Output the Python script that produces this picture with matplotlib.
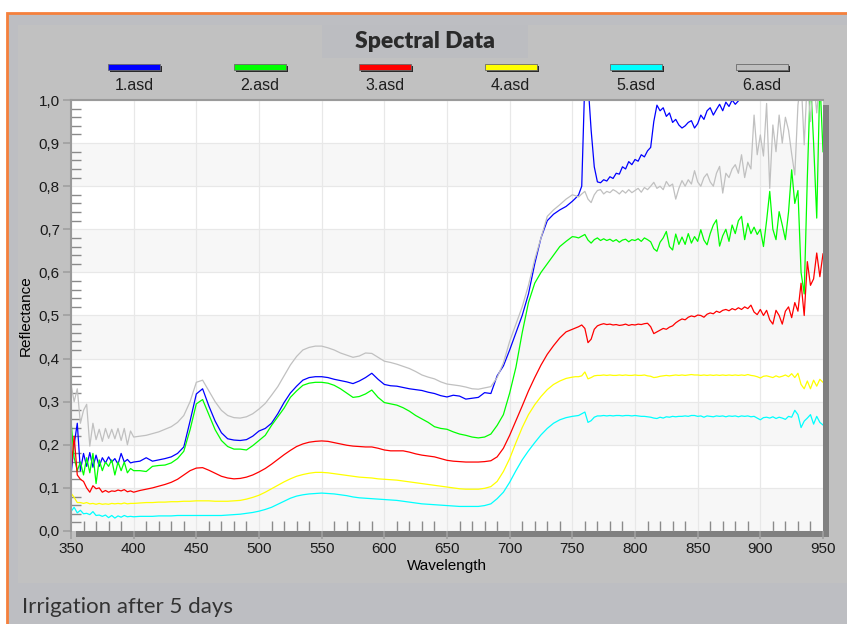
import numpy as np
import matplotlib
matplotlib.use("Agg")
import matplotlib.pyplot as plt
from matplotlib.patches import Rectangle
from matplotlib.ticker import MultipleLocator, FuncFormatter

# sample grid: finer where the spectra are noisy
wavelength = np.concatenate([np.arange(350, 400.1, 2.5),
                             np.arange(405, 750.1, 5),
                             np.arange(752.5, 950.1, 2.5)])

names = ['1.asd', '2.asd', '3.asd', '4.asd', '5.asd', '6.asd']
colors = ['#0000ff', '#00ff00', '#ff0000', '#ffff00', '#00ffff', '#c0c0c0']

blue = [
    0.13, 0.2, 0.25, 0.14, 0.18, 0.15, 0.182, 0.148, 0.176, 0.15, 0.17, 0.158, 0.172, 0.16, 0.168, 0.155, 0.18, 0.16, 0.166, 0.158, 0.16,
    0.162, 0.17, 0.162, 0.165, 0.168, 0.172, 0.18, 0.195, 0.255, 0.318,
    0.33, 0.29, 0.255, 0.228, 0.214, 0.211, 0.21, 0.212, 0.22, 0.232,
    0.238, 0.25, 0.272, 0.298, 0.32, 0.336, 0.35, 0.356, 0.358, 0.358,
    0.356, 0.352, 0.349, 0.346, 0.342, 0.348, 0.356, 0.366, 0.352, 0.34,
    0.337, 0.336, 0.333, 0.33, 0.328, 0.326, 0.322, 0.319, 0.314, 0.311,
    0.315, 0.313, 0.306, 0.308, 0.31, 0.321, 0.319, 0.36, 0.383, 0.42,
    0.46, 0.5, 0.55, 0.62, 0.68, 0.72, 0.735, 0.745, 0.753, 0.765,
    0.772, 0.78, 0.8, 1.05, 1.04, 0.93, 0.845, 0.81, 0.808, 0.815,
    0.812, 0.822, 0.818, 0.83, 0.828, 0.845, 0.84, 0.857, 0.85, 0.862,
    0.858, 0.873, 0.868, 0.882, 0.89, 0.95, 0.988, 0.975, 0.982, 0.962,
    0.97, 0.948, 0.955, 0.942, 0.935, 0.94, 0.948, 0.952, 0.935, 0.945,
    0.965, 0.955, 0.975, 0.982, 0.965, 0.978, 0.99, 0.975, 0.995, 0.985,
    1.0, 0.99, 0.998, 1.02, 1.04, 1.03, 1.06, 1.04, 1.07, 1.05,
    1.08, 1.06, 1.09, 1.07, 1.1, 1.08, 1.1, 1.09, 1.12, 1.1,
    1.13, 1.08, 1.15, 1.1, 1.14, 1.12, 1.16, 1.1, 1.15, 1.12,
]

green = [
    0.255, 0.17, 0.14, 0.16, 0.13, 0.17, 0.135, 0.18, 0.11, 0.165, 0.14, 0.16, 0.15, 0.165, 0.13, 0.16, 0.14, 0.16, 0.135, 0.145, 0.14,
    0.14, 0.138, 0.15, 0.152, 0.153, 0.158, 0.168, 0.185, 0.235, 0.295,
    0.305, 0.27, 0.235, 0.21, 0.196, 0.19, 0.19, 0.188, 0.198, 0.21,
    0.222, 0.245, 0.265, 0.285, 0.31, 0.325, 0.338, 0.343, 0.345, 0.345,
    0.343, 0.338, 0.33, 0.32, 0.31, 0.312, 0.318, 0.327, 0.31, 0.298,
    0.295, 0.292, 0.286, 0.278, 0.268, 0.26, 0.252, 0.242, 0.238, 0.236,
    0.23, 0.225, 0.222, 0.218, 0.216, 0.218, 0.225, 0.245, 0.27, 0.32,
    0.38, 0.46, 0.53, 0.575, 0.6, 0.62, 0.64, 0.66, 0.672, 0.683,
    0.682, 0.68, 0.684, 0.688, 0.675, 0.668, 0.676, 0.68, 0.674, 0.678,
    0.674, 0.677, 0.672, 0.676, 0.67, 0.675, 0.677, 0.671, 0.676, 0.674,
    0.678, 0.672, 0.68, 0.676, 0.671, 0.655, 0.649, 0.67, 0.68, 0.695,
    0.66, 0.652, 0.689, 0.665, 0.682, 0.665, 0.69, 0.668, 0.683, 0.672,
    0.699, 0.675, 0.664, 0.69, 0.71, 0.722, 0.661, 0.685, 0.7, 0.672,
    0.71, 0.69, 0.72, 0.73, 0.676, 0.714, 0.69, 0.705, 0.688, 0.7,
    0.66, 0.72, 0.788, 0.7, 0.676, 0.741, 0.71, 0.676, 0.74, 0.838,
    0.76, 0.79, 0.6, 0.55, 0.82, 1.05, 0.9, 0.726, 1.05, 0.88,
]

red = [
    0.14, 0.22, 0.13, 0.12, 0.115, 0.1, 0.09, 0.105, 0.098, 0.1, 0.09, 0.094, 0.09, 0.093, 0.092, 0.095, 0.093, 0.096, 0.091, 0.093, 0.09,
    0.094, 0.097, 0.1, 0.104, 0.108, 0.113, 0.12, 0.13, 0.14, 0.146,
    0.147, 0.141, 0.134, 0.127, 0.123, 0.121, 0.122, 0.125, 0.13, 0.137,
    0.145, 0.155, 0.166, 0.177, 0.187, 0.196, 0.202, 0.206, 0.208, 0.209,
    0.208, 0.205, 0.202, 0.199, 0.197, 0.196, 0.195, 0.195, 0.192, 0.188,
    0.186, 0.186, 0.186, 0.183, 0.179, 0.176, 0.174, 0.172, 0.168, 0.164,
    0.162, 0.161, 0.16, 0.16, 0.16, 0.161, 0.163, 0.172, 0.192, 0.222,
    0.256, 0.29, 0.325, 0.356, 0.385, 0.41, 0.43, 0.448, 0.462, 0.468,
    0.471, 0.474, 0.478, 0.47, 0.437, 0.445, 0.468, 0.476, 0.479, 0.481,
    0.479, 0.48, 0.478, 0.479, 0.477, 0.478, 0.48, 0.477, 0.479, 0.478,
    0.48, 0.479, 0.481, 0.482, 0.474, 0.458, 0.462, 0.466, 0.47, 0.468,
    0.473, 0.476, 0.483, 0.488, 0.492, 0.49, 0.496, 0.499, 0.497, 0.501,
    0.5, 0.496, 0.503, 0.506, 0.504, 0.51, 0.507, 0.512, 0.514, 0.511,
    0.516, 0.513, 0.518, 0.514, 0.52, 0.516, 0.524, 0.508, 0.502, 0.514,
    0.5, 0.512, 0.49, 0.48, 0.512, 0.5, 0.48, 0.51, 0.52, 0.495,
    0.53, 0.51, 0.575, 0.5, 0.625, 0.57, 0.585, 0.645, 0.59, 0.643,
]

yellow = [
    0.088, 0.078, 0.066, 0.066, 0.064, 0.066, 0.063, 0.064, 0.062, 0.064, 0.062, 0.063, 0.062, 0.064, 0.063, 0.064, 0.063, 0.065, 0.063, 0.064, 0.064,
    0.065, 0.066, 0.066, 0.067, 0.067, 0.068, 0.068, 0.069, 0.069, 0.07,
    0.07, 0.07, 0.069, 0.069, 0.069, 0.07, 0.071, 0.074, 0.078, 0.083,
    0.09, 0.098, 0.106, 0.114, 0.121, 0.127, 0.131, 0.134, 0.136, 0.136,
    0.135, 0.133, 0.131, 0.129, 0.127, 0.125, 0.124, 0.123, 0.121, 0.12,
    0.119, 0.118, 0.116, 0.114, 0.112, 0.11, 0.108, 0.106, 0.104, 0.102,
    0.1, 0.098, 0.097, 0.097, 0.097, 0.099, 0.103, 0.115, 0.138, 0.168,
    0.205, 0.24, 0.27, 0.293, 0.312, 0.328, 0.34, 0.348, 0.354, 0.357,
    0.358, 0.358, 0.36, 0.369, 0.353, 0.356, 0.36, 0.361, 0.361, 0.362,
    0.361, 0.362, 0.361, 0.361, 0.362, 0.361, 0.362, 0.361, 0.361, 0.362,
    0.361, 0.361, 0.362, 0.36, 0.359, 0.356, 0.357, 0.359, 0.36, 0.361,
    0.36, 0.361, 0.362, 0.361, 0.362, 0.361, 0.362, 0.363, 0.362, 0.362,
    0.361, 0.362, 0.361, 0.362, 0.361, 0.362, 0.361, 0.362, 0.361, 0.362,
    0.361, 0.362, 0.361, 0.362, 0.361, 0.363, 0.361, 0.36, 0.358, 0.355,
    0.359, 0.36, 0.358, 0.356, 0.36, 0.357, 0.359, 0.362, 0.358, 0.365,
    0.356, 0.366, 0.34, 0.33, 0.348, 0.33, 0.35, 0.336, 0.352, 0.345,
]

cyan = [
    0.045, 0.055, 0.042, 0.048, 0.04, 0.041, 0.038, 0.045, 0.036, 0.037, 0.034, 0.037, 0.031, 0.036, 0.03, 0.035, 0.032, 0.036, 0.033, 0.034, 0.033,
    0.034, 0.034, 0.034, 0.035, 0.035, 0.035, 0.036, 0.036, 0.036, 0.036,
    0.036, 0.036, 0.036, 0.036, 0.037, 0.038, 0.039, 0.041, 0.043, 0.046,
    0.05, 0.055, 0.062, 0.069, 0.076, 0.081, 0.084, 0.086, 0.087, 0.088,
    0.087, 0.086, 0.084, 0.082, 0.079, 0.077, 0.076, 0.075, 0.074, 0.073,
    0.072, 0.071, 0.069, 0.067, 0.065, 0.063, 0.062, 0.061, 0.06, 0.059,
    0.058, 0.057, 0.057, 0.057, 0.057, 0.059, 0.063, 0.075, 0.09, 0.113,
    0.14, 0.165, 0.186, 0.205, 0.223, 0.238, 0.25, 0.258, 0.263, 0.266,
    0.267, 0.268, 0.272, 0.276, 0.252, 0.256, 0.264, 0.267, 0.267, 0.268,
    0.267, 0.268, 0.267, 0.268, 0.268, 0.267, 0.268, 0.268, 0.267, 0.268,
    0.267, 0.266, 0.266, 0.265, 0.264, 0.262, 0.261, 0.264, 0.262, 0.265,
    0.264, 0.266, 0.265, 0.266, 0.266, 0.267, 0.266, 0.268, 0.268, 0.266,
    0.267, 0.264, 0.267, 0.266, 0.265, 0.267, 0.266, 0.267, 0.265, 0.267,
    0.266, 0.267, 0.265, 0.267, 0.266, 0.267, 0.265, 0.266, 0.262, 0.258,
    0.263, 0.264, 0.262, 0.265, 0.261, 0.264, 0.262, 0.259, 0.266, 0.264,
    0.28, 0.27, 0.24, 0.255, 0.262, 0.27, 0.248, 0.266, 0.252, 0.246,
]

gray = [
    0.34, 0.30, 0.33, 0.25, 0.28, 0.294, 0.197, 0.25, 0.212, 0.236, 0.208, 0.238, 0.215, 0.236, 0.214, 0.238, 0.21, 0.238, 0.2, 0.232, 0.218,
    0.22, 0.222, 0.226, 0.23, 0.236, 0.242, 0.252, 0.268, 0.3, 0.345,
    0.35, 0.325, 0.3, 0.28, 0.268, 0.263, 0.262, 0.265, 0.272, 0.283,
    0.296, 0.315, 0.335, 0.36, 0.385, 0.405, 0.42, 0.426, 0.429, 0.429,
    0.425, 0.42, 0.413, 0.408, 0.403, 0.406, 0.413, 0.412, 0.403, 0.394,
    0.391, 0.387, 0.382, 0.377, 0.37, 0.362, 0.357, 0.353, 0.346, 0.341,
    0.339, 0.337, 0.334, 0.33, 0.329, 0.332, 0.335, 0.356, 0.39, 0.44,
    0.48, 0.52, 0.57, 0.63, 0.68, 0.73, 0.745, 0.757, 0.77, 0.78,
    0.778, 0.775, 0.782, 0.788, 0.77, 0.762, 0.78, 0.79, 0.792, 0.782,
    0.788, 0.785, 0.792, 0.788, 0.782, 0.79, 0.784, 0.792, 0.785, 0.79,
    0.795, 0.786, 0.797, 0.792, 0.8, 0.809, 0.795, 0.8, 0.792, 0.811,
    0.8, 0.805, 0.77, 0.795, 0.813, 0.8, 0.815, 0.805, 0.836, 0.81,
    0.8, 0.82, 0.829, 0.81, 0.8, 0.83, 0.846, 0.784, 0.83, 0.82,
    0.84, 0.85, 0.83, 0.873, 0.82, 0.856, 0.84, 0.965, 0.873, 0.919,
    0.87, 0.992, 0.795, 0.942, 0.88, 0.965, 0.9, 0.96, 0.93, 0.875,
    0.826, 0.988, 1.05, 0.896, 1.05, 0.95, 1.05, 0.97, 1.05, 1.02,
]

series = [blue, green, red, yellow, cyan, gray]

W, H = 847, 624
fig = plt.figure(figsize=(W / 100, H / 100), dpi=100, facecolor='white')

# panel decoration, drawn in pixel coordinates
bg = fig.add_axes([0, 0, 1, 1])
bg.set_xlim(0, W)
bg.set_ylim(H, 0)
bg.axis('off')
bg.add_patch(Rectangle((7, 13), 850, 620, facecolor='#bdbec2', edgecolor='#f5803c', lw=2))
bg.add_patch(Rectangle((18, 25), 840, 558, facecolor='#c1c1c1', edgecolor='none'))
bg.add_patch(Rectangle((322, 25), 206, 33, facecolor='#bcbdc1', edgecolor='none'))
bg.text(425, 41, 'Spectral Data', ha='center', va='center', fontsize=16.5,
        fontweight='heavy', family='Lato', color='#2a2a2a')

for i, (name, color) in enumerate(zip(names, colors)):
    cx = 134 + 125.5 * i
    bg.add_patch(Rectangle((cx - 24, 66), 52, 5.5, facecolor='#2a2a2a', edgecolor='none'))
    bg.add_patch(Rectangle((cx - 26, 64), 52, 5.5, facecolor=color, edgecolor='#6a6a6a', lw=0.6))
    bg.text(cx, 86, name, ha='center', va='center', fontsize=11.5,
            family='Liberation Sans', color='#1e1e1e')

# drop shadow behind the plot area
bg.add_patch(Rectangle((76, 105), 753, 432, facecolor='#808080', edgecolor='none'))

bg.text(22, 607, 'Irrigation after 5 days', ha='left', va='center', fontsize=16,
        family='Lato', color='#333333')

# plot area
ax = fig.add_axes([71 / W, 1 - 531 / H, 752 / W, 431 / H])
ax.set_facecolor('white')
for k in range(0, 10, 2):
    ax.axhspan(k / 10, (k + 1) / 10, color='#f7f7f7', lw=0, zorder=0)
ax.set_axisbelow(True)
ax.grid(True, which='major', color='#e8e8e8', lw=0.9)

for vals, color in zip(series, colors):
    ax.plot(wavelength, vals, color=color, lw=0.9)

ax.set_xlim(350, 950)
ax.set_ylim(0, 1)
ax.xaxis.set_major_locator(MultipleLocator(50))
ax.xaxis.set_minor_locator(MultipleLocator(10))
ax.yaxis.set_major_locator(MultipleLocator(0.1))
ax.yaxis.set_minor_locator(MultipleLocator(0.02))
ax.yaxis.set_major_formatter(FuncFormatter(lambda v, p: ('%.1f' % v).replace('.', ',')))

ax.tick_params(which='major', direction='out', length=6, width=1.2, color='#a0a0a0',
               labelsize=11, labelcolor='#1a1a1a', pad=2)
ax.tick_params(which='minor', direction='in', length=7, width=1, color='#8a8a8a')
for lab in ax.get_xticklabels() + ax.get_yticklabels():
    lab.set_family('Liberation Sans')

for side in ['right', 'bottom']:
    ax.spines[side].set_visible(False)
for side in ['left', 'top']:
    ax.spines[side].set_color('#9a9a9a')
    ax.spines[side].set_linewidth(1.5)

ax.set_xlabel('Wavelength', fontsize=11, family='Liberation Sans', labelpad=2)
ax.set_ylabel('Reflectance', fontsize=11, family='Liberation Sans', labelpad=4)

fig.savefig('out.png', dpi=100, facecolor='white')
